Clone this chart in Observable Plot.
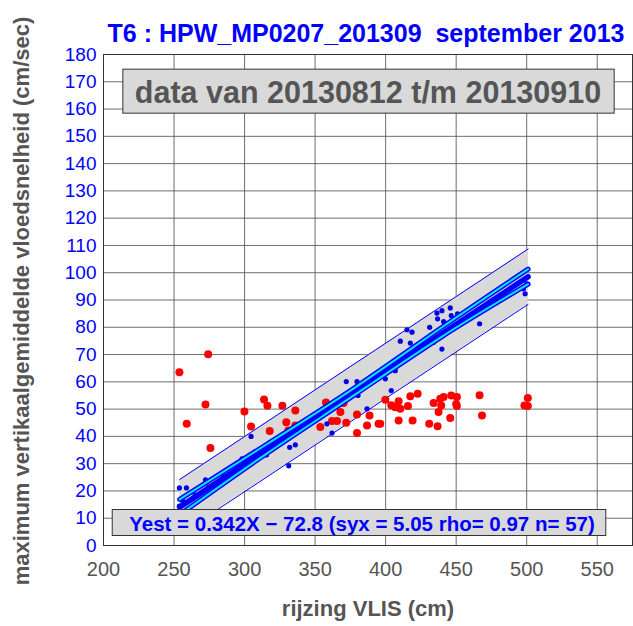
<!DOCTYPE html>
<html>
<head>
<meta charset="utf-8">
<script src="https://cdn.jsdelivr.net/npm/d3@7"></script>
<script src="https://cdn.jsdelivr.net/npm/@observablehq/plot@0.6"></script>
<style>
  html, body { margin: 0; padding: 0; background: #fff; }
</style>
</head>
<body>
<script>
// ---- data ----
const xTicks = [200, 250, 300, 350, 400, 450, 500, 550];
const yTicks = [0, 10, 20, 30, 40, 50, 60, 70, 80, 90, 100, 110, 120, 130, 140, 150, 160, 170, 180];

const titleText = "T6 : HPW_MP0207_201309  september 2013";
const periodText = "data van 20130812 t/m 20130910";
const fitText = "Yest = 0.342X \u2212 72.8 (syx = 5.05 rho= 0.97 n= 57)";
const xLabel = "rijzing VLIS (cm)";
const yLabel = "maximum vertikaalgemiddelde vloedsnelheid (cm/sec)";

// points used in the fit (blue)
const blueX = [253.8, 258.8, 253.8, 272.3, 274.6, 298.2, 304.6, 315.5, 331.3, 332.0, 336.0, 362.0, 358.4, 372.1, 379.7, 380.4, 386.8, 399.8, 404.0, 406.8,
  415.1, 418.7, 417.5, 431.2, 436.4, 439.9, 436.8, 441.1, 445.8, 446.5, 451.0, 466.6, 439.9, 434.0, 497.7, 498.9, 500.1, 410.4,
  256, 265, 285, 300, 312, 322, 340, 348, 352, 356, 364, 368, 374, 385, 392, 396, 410, 414, 425];
const blueY = [21.1, 21.1, 14.4, 24.1, 21.4, 31.8, 40.0, 33.2, 29.2, 36.0, 36.9, 41.2, 44.6, 60.1, 60.1, 55.0, 50.1, 61.1, 56.8, 64.1,
  79.1, 78.2, 74.2, 80.0, 85.2, 86.1, 83.1, 82.1, 87.1, 84.3, 84.9, 81.3, 72.0, 74.5, 94.1, 92.3, 95.9, 74.9,
  16.5, 18.5, 25.5, 30.5, 34.0, 37.5, 43.5, 46.0, 48.0, 49.0, 51.5, 53.0, 55.0, 59.0, 61.0, 63.0, 67.0, 69.0, 72.5];

// points not used in the fit (red)
const redX = [253.8, 274.2, 272.3, 259.0, 275.8, 299.9, 304.6, 313.8, 316.2, 317.8, 326.8, 329.6, 331.0, 336.0, 336.0,
  357.7, 370.2, 353.7, 367.9, 353.7, 362.0, 365.5, 372.1, 379.7, 388.6, 386.8, 395.0, 379.7,
  399.8, 404.0, 409.2, 406.8, 410.4, 415.8, 417.5, 422.7, 396.2, 409.2, 419.1, 430.9, 436.8, 434.0, 438.7, 441.1,
  446.5, 439.4, 437.5, 450.5, 450.0, 450.5, 445.8, 466.6, 468.3, 500.8, 498.4, 500.8];
const redY = [63.5, 70.1, 51.7, 44.6, 35.7, 49.1, 43.6, 53.5, 51.2, 42.0, 51.2, 45.2, 42.2, 49.5, 44.0,
  52.4, 52.2, 47.7, 48.9, 43.4, 45.6, 45.6, 45.0, 48.0, 47.7, 44.0, 44.6, 41.2,
  53.4, 51.4, 52.9, 50.7, 50.1, 51.1, 54.7, 55.6, 44.6, 45.8, 45.8, 44.6, 43.7, 52.2, 53.8, 54.4,
  55.0, 51.3, 48.9, 54.4, 51.9, 51.1, 46.7, 55.1, 47.7, 54.1, 51.3, 51.1];

// regression line and bands
const fitX = [254, 501];
const fitY = [14.07, 98.54];
const predLo = [4.0, 88.4];
const predHi = [24.2, 108.7];
const confX = [254, 316, 378, 440, 501];
const confLo = [11.3, 33.8, 55.2, 76.6, 95.8];
const confHi = [16.9, 37.2, 57.8, 80.0, 101.3];

// ---- tables ----
const blue = blueX.map((x, i) => ({x, y: blueY[i]}));
const red = redX.map((x, i) => ({x, y: redY[i]}));
const pred = fitX.map((x, i) => ({x, lo: predLo[i], hi: predHi[i]}));
const fit = fitX.map((x, i) => ({x, y: fitY[i]}));
const conf = confX.map((x, i) => ({x, lo: confLo[i], hi: confHi[i]}));

const font = "'Liberation Sans', Arial, Helvetica, sans-serif";

const chart = Plot.plot({
  width: 633,
  height: 626,
  marginTop: 54,
  marginLeft: 103,
  marginRight: 1,
  marginBottom: 81,
  style: {fontFamily: font, background: "#fff", overflow: "visible"},
  x: {domain: [200, 575], ticks: xTicks, label: null},
  y: {domain: [0, 180], ticks: yTicks, label: null},
  marks: [
    Plot.gridX(xTicks, {stroke: "#555", strokeOpacity: 0.85, strokeWidth: 1}),
    Plot.gridY(yTicks, {stroke: "#555", strokeOpacity: 0.85, strokeWidth: 1}),
    Plot.areaY(pred, {x: "x", y1: "lo", y2: "hi", fill: "#d9d9d9"}),
    Plot.line(pred, {x: "x", y: "hi", stroke: "#0000ff", strokeWidth: 1}),
    Plot.line(pred, {x: "x", y: "lo", stroke: "#0000ff", strokeWidth: 1}),
    Plot.dot(red, {x: "x", y: "y", r: 4, fill: "#ff0000", stroke: "none"}),
    Plot.dot(blue, {x: "x", y: "y", r: 2.6, fill: "#0000e6", stroke: "none"}),
    Plot.line(conf, {x: "x", y: "hi", stroke: "#0000ff", strokeWidth: 5, curve: "natural"}),
    Plot.line(conf, {x: "x", y: "lo", stroke: "#0000ff", strokeWidth: 5, curve: "natural"}),
    Plot.line(fit, {x: "x", y: "y", stroke: "#0000ff", strokeWidth: 5.5}),
    Plot.line(conf, {x: "x", y: "hi", stroke: "#00e5ff", strokeWidth: 2, curve: "natural"}),
    Plot.line(conf, {x: "x", y: "lo", stroke: "#00e5ff", strokeWidth: 2, curve: "natural"}),
    Plot.frame({stroke: "#333", strokeWidth: 1}),
    Plot.axisX(xTicks, {tickSize: 0, tickPadding: 16, fontSize: 20, fill: "#555", label: null}),
    Plot.axisY(yTicks, {tickSize: 0, tickPadding: 7, fontSize: 19, fill: "#0000ff", label: null}),
    Plot.text([titleText], {frameAnchor: "top", dy: -30, dx: -2, fontSize: 25, fontWeight: "bold", fill: "#0000ff", textAnchor: "middle"}),
    Plot.text([xLabel], {frameAnchor: "bottom", dy: 70, fontSize: 22, fontWeight: "bold", fill: "#555", textAnchor: "middle"}),
    Plot.text([yLabel], {frameAnchor: "left", dx: -82, dy: 1, rotate: -90, fontSize: 22, fontWeight: "bold", fill: "#555", textAnchor: "middle"}),
    Plot.text([periodText], {frameAnchor: "top", dy: 27, fontSize: 30.5, fontWeight: "bold", fill: "#555", textAnchor: "middle"}),
    Plot.text([fitText], {frameAnchor: "bottom", dy: -15, dx: -6, fontSize: 20.5, fontWeight: "bold", fill: "#0000ff", textAnchor: "middle"})
  ]
});

document.body.append(chart);

// draw label boxes behind the two boxed annotations
d3.select(chart).selectAll("text")
  .filter(function () { return this.textContent === periodText || this.textContent === fitText; })
  .each(function () {
    const b = this.getBBox();
    const big = this.textContent === periodText;
    const padL = big ? 12 : 17, padR = big ? 13 : 11;
    const padT = big ? 6 : 2, padB = big ? 4 : 1;
    const r = d3.select(this.parentNode).insert("rect", () => this)
      .attr("x", b.x - padL)
      .attr("y", b.y - padT)
      .attr("width", b.width + padL + padR)
      .attr("height", b.height + padT + padB)
      .attr("fill", "#d9d9d9")
      .attr("stroke", "#333")
      .attr("stroke-width", 1);
    const t = this.getAttribute("transform");
    if (t) r.attr("transform", t);
  });
</script>
</body>
</html>
